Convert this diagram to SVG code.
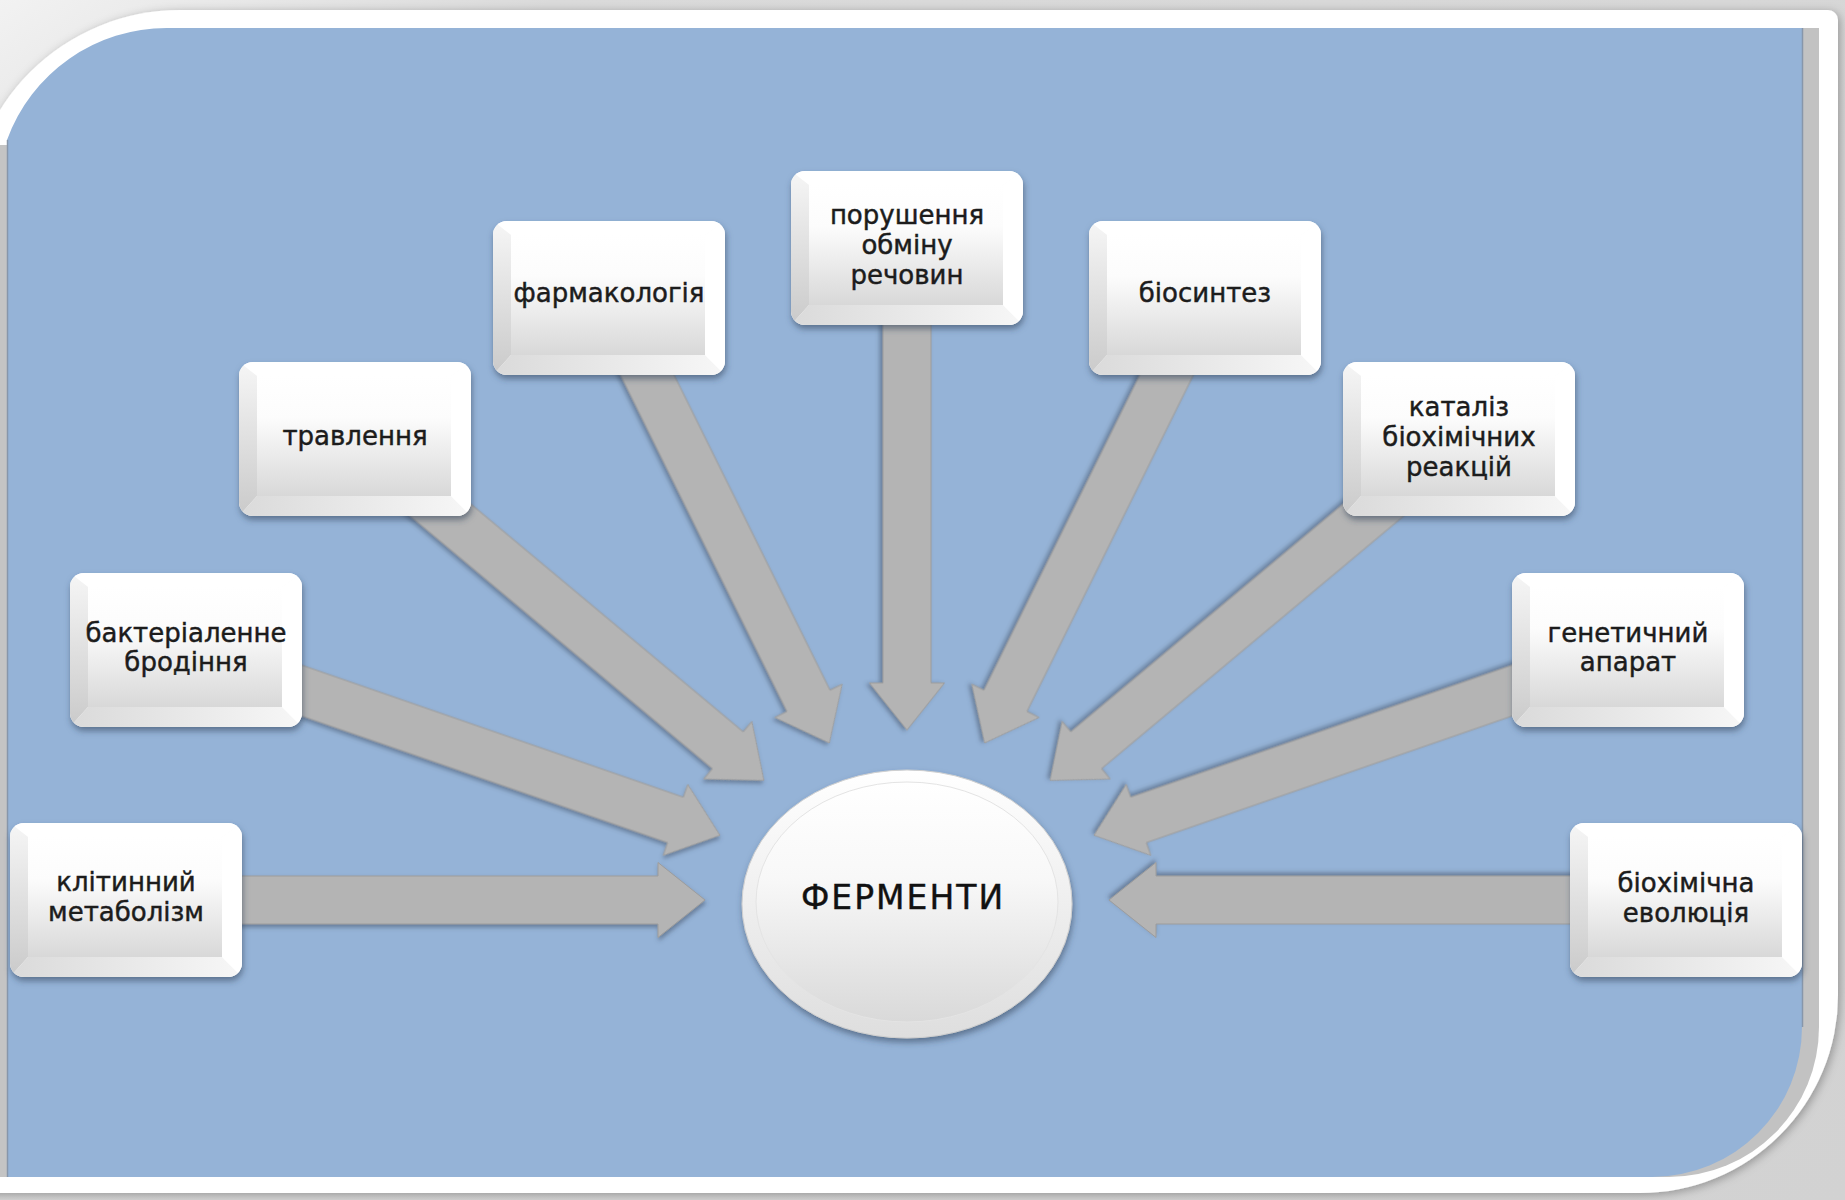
<svg xmlns="http://www.w3.org/2000/svg" xmlns:xlink="http://www.w3.org/1999/xlink" width="1845" height="1200" viewBox="0 0 1845 1200">
<style>
.lbl{font-family:"DejaVu Sans","Open Sans",sans-serif;font-size:26px;fill:#1c1c1c;stroke:#1c1c1c;stroke-width:0.45px;text-anchor:middle}
.big{font-family:"DejaVu Sans","Open Sans",sans-serif;font-size:33px;fill:#111;stroke:#111;stroke-width:0.4px;text-anchor:middle;letter-spacing:2px}
.arr{fill:#b4b4b4;stroke:#9c9c9c;stroke-width:1;filter:url(#shA)}
.btn{filter:url(#shB)}
</style>
<defs>
<filter id="shA" x="-10%" y="-30%" width="120%" height="160%"><feDropShadow dx="1" dy="3" stdDeviation="2" flood-color="#3a4a60" flood-opacity="0.5"/></filter>
<filter id="shB" x="-10%" y="-10%" width="120%" height="125%"><feDropShadow dx="1" dy="4" stdDeviation="3" flood-color="#2f3f55" flood-opacity="0.55"/></filter>
<filter id="shF" x="-5%" y="-5%" width="110%" height="110%"><feDropShadow dx="2" dy="2" stdDeviation="5" flood-color="#000" flood-opacity="0.3"/></filter>
<linearGradient id="gFace" x1="0" y1="0" x2="0" y2="1"><stop offset="0" stop-color="#ffffff"/><stop offset="0.35" stop-color="#fcfcfc"/><stop offset="1" stop-color="#d8d8d8"/></linearGradient>
<linearGradient id="gLeft" x1="0" y1="0" x2="0" y2="1"><stop offset="0" stop-color="#f6f6f6"/><stop offset="1" stop-color="#cacaca"/></linearGradient>
<linearGradient id="gBot" x1="0" y1="0" x2="1" y2="0"><stop offset="0" stop-color="#dadada"/><stop offset="1" stop-color="#f7f7f7"/></linearGradient>
<linearGradient id="gRing" x1="0" y1="0" x2="0" y2="1"><stop offset="0" stop-color="#ffffff"/><stop offset="1" stop-color="#dedede"/></linearGradient>
<linearGradient id="gEF" x1="0" y1="0" x2="0" y2="1"><stop offset="0" stop-color="#ffffff"/><stop offset="0.4" stop-color="#f8f8f8"/><stop offset="1" stop-color="#d9d9d9"/></linearGradient>
<linearGradient id="gBg" x1="0" y1="0" x2="1" y2="1"><stop offset="0" stop-color="#f2f2f2"/><stop offset="0.15" stop-color="#dadada"/><stop offset="1" stop-color="#d2d2d2"/></linearGradient>
<clipPath id="cB"><rect x="0" y="0" width="232" height="154" rx="14"/></clipPath>
<symbol id="box" viewBox="0 0 232 154" width="232" height="154" overflow="visible">
<g clip-path="url(#cB)">
<rect x="0" y="0" width="232" height="154" fill="#fafafa"/>
<polygon points="0,0 232,0 212,14 18,14" fill="#ffffff"/>
<polygon points="0,0 18,14 18,134 0,154" fill="url(#gLeft)"/>
<polygon points="0,154 18,134 212,134 232,154" fill="url(#gBot)"/>
<polygon points="232,0 212,14 212,134 232,154" fill="#ffffff"/>
<rect x="18" y="14" width="194" height="120" fill="url(#gFace)"/>
</g>
</symbol>
</defs>

<g id="frame">
<rect x="0" y="0" width="1845" height="1200" fill="url(#gBg)"/>
<path d="M-32,1193 V222 A212,212 0 0 1 180,10 H1828 A10,10 0 0 1 1838,20 V995 A198,198 0 0 1 1640,1193 Z" fill="#ffffff" filter="url(#shF)"/>
<rect x="0" y="145" width="7" height="1032" fill="#c4c4c4"/>
<path d="M1780,28 H1819 V1027 A150,150 0 0 1 1669,1177 H1640 Z" fill="#c2c2c2"/>
<path d="M7,1177 V140 A170,170 0 0 1 167,28 H1802 V1027 A150,150 0 0 1 1652,1177 Z" fill="#95b3d7"/>
<line x1="7.5" y1="140" x2="7.5" y2="1177" stroke="#8796aa" stroke-width="1.5"/>
<line x1="1802.5" y1="28" x2="1802.5" y2="1027" stroke="#8796aa" stroke-width="1.5"/>
</g>

<g id="connectors">
<path class="arr" transform="translate(126,900) rotate(0)" d="M0,-24 H532 V-37.5 L579,0 L532,37.5 V24 H0 Z"/>
<path class="arr" transform="translate(186,650.5) rotate(19.09)" d="M0,-24 H518 V-37.5 L565,0 L518,37.5 V24 H0 Z"/>
<path class="arr" transform="translate(355,438.5) rotate(39.9)" d="M0,-24 H486 V-37.5 L533,0 L486,37.5 V24 H0 Z"/>
<path class="arr" transform="translate(609,297.5) rotate(63.68)" d="M0,-24 H450 V-37.5 L497,0 L450,37.5 V24 H0 Z"/>
<path class="arr" transform="translate(907,247.5) rotate(90)" d="M0,-24 H435.5 V-37.5 L482.5,0 L435.5,37.5 V24 H0 Z"/>
<path class="arr" transform="translate(1205,297.5) rotate(116.32)" d="M0,-24 H450 V-37.5 L497,0 L450,37.5 V24 H0 Z"/>
<path class="arr" transform="translate(1459,438.5) rotate(140.1)" d="M0,-24 H486 V-37.5 L533,0 L486,37.5 V24 H0 Z"/>
<path class="arr" transform="translate(1628,650.5) rotate(160.91)" d="M0,-24 H518 V-37.5 L565,0 L518,37.5 V24 H0 Z"/>
<path class="arr" transform="translate(1686,900) rotate(180)" d="M0,-24 H530 V-37.5 L577,0 L530,37.5 V24 H0 Z"/>
</g>

<g id="n-metabolism"><use class="btn" href="#box" x="10" y="823"/><text class="lbl" x="126" y="891">клітинний</text><text class="lbl" x="126" y="921">метаболізм</text></g>
<g id="n-brodinnia"><use class="btn" href="#box" x="70" y="573"/><text class="lbl" x="186" y="642">бактеріаленне</text><text class="lbl" x="186" y="671">бродіння</text></g>
<g id="n-travlennia"><use class="btn" href="#box" x="239" y="362"/><text class="lbl" x="355" y="445">травлення</text></g>
<g id="n-farmakologia"><use class="btn" href="#box" x="493" y="221"/><text class="lbl" x="609" y="302">фармакологія</text></g>
<g id="n-porushennia"><use class="btn" href="#box" x="791" y="171"/><text class="lbl" x="907" y="224">порушення</text><text class="lbl" x="907" y="254">обміну</text><text class="lbl" x="907" y="284">речовин</text></g>
<g id="n-biosyntez"><use class="btn" href="#box" x="1089" y="221"/><text class="lbl" x="1205" y="302">біосинтез</text></g>
<g id="n-kataliz"><use class="btn" href="#box" x="1343" y="362"/><text class="lbl" x="1459" y="416">каталіз</text><text class="lbl" x="1459" y="446">біохімічних</text><text class="lbl" x="1459" y="476">реакцій</text></g>
<g id="n-henetychnyi"><use class="btn" href="#box" x="1512" y="573"/><text class="lbl" x="1628" y="642">генетичний</text><text class="lbl" x="1628" y="671">апарат</text></g>
<g id="n-evoliutsia"><use class="btn" href="#box" x="1570" y="823"/><text class="lbl" x="1686" y="892">біохімічна</text><text class="lbl" x="1686" y="922">еволюція</text></g>

<g id="n-fermenty">
<ellipse cx="907" cy="904" rx="165" ry="134" fill="url(#gRing)" stroke="#cfcfcf" stroke-width="1" filter="url(#shB)"/>
<ellipse cx="907" cy="902" rx="151" ry="120" fill="url(#gEF)" stroke="#e4e4e4" stroke-width="1"/>
<text class="big" x="903" y="909">ФЕРМЕНТИ</text>
</g>
</svg>
